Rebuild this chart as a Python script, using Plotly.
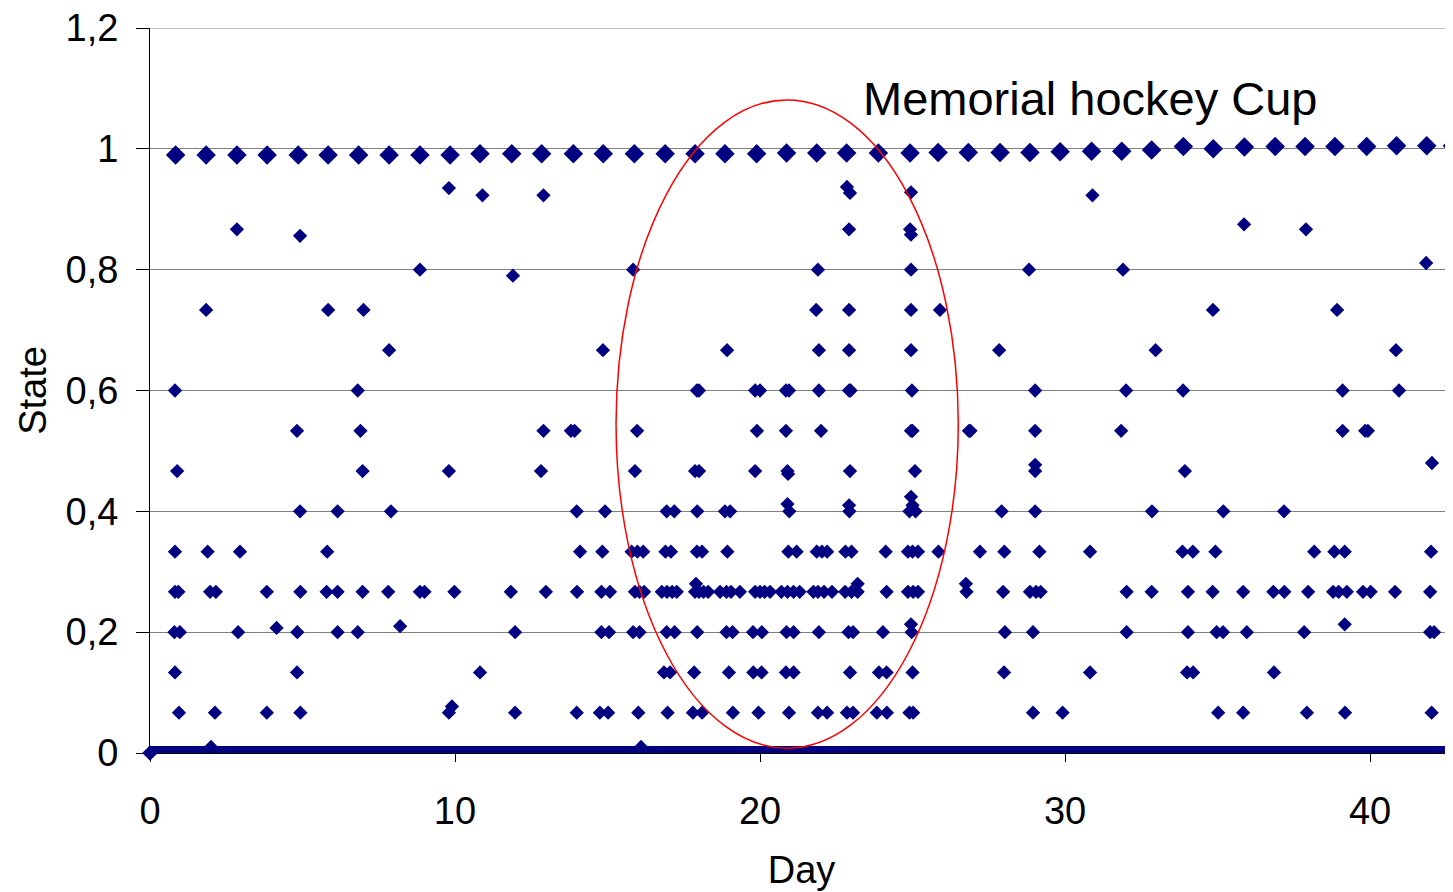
import plotly.graph_objects as go

NAVY = "#000080"

# ---------------- data ----------------
# state 0: a continuous run of observations along the whole period
zero_span_x = [0.0, 42.72]
zero_state = 0.0

# state ~1: one blob per day
top_x = [0.84, 1.84, 2.85, 3.84, 4.86, 5.84, 6.84, 7.84, 8.85, 9.84,
         10.82, 11.86, 12.84, 13.88, 14.86, 15.88, 16.89, 17.87, 18.85, 19.89,
         20.87, 21.86, 22.84, 23.88, 24.92, 25.84, 26.83, 27.87, 28.85, 29.84,
         30.87, 31.86, 32.84, 33.88, 34.86, 35.88, 36.89, 37.87, 38.85, 39.89,
         40.87, 41.86, 42.7]
top_y = [0.99, 0.99, 0.99, 0.99, 0.99, 0.99, 0.99, 0.99, 0.99, 0.99,
         0.992, 0.992, 0.992, 0.992, 0.992, 0.992, 0.992, 0.992, 0.992, 0.992,
         0.993, 0.993, 0.993, 0.993, 0.993, 0.994, 0.994, 0.994, 0.994, 0.995,
         0.996, 0.996, 0.998, 1.004, 1.0, 1.003, 1.004, 1.004, 1.004, 1.004,
         1.005, 1.005, 1.005]

# intermediate states: x positions at each discrete level
lvl_0067_x = [0.95, 2.13, 3.83, 4.93, 9.8, 11.97, 13.99, 14.75, 15.02, 16.01, 16.97,
              17.8, 18.1, 19.11, 19.95, 20.95, 21.9, 22.2, 22.85, 23.05, 23.83, 24.16,
              24.9, 25.02, 28.95, 29.92, 35.02, 35.84, 37.93, 39.18, 42.02]
lvl_0133_x = [0.82, 4.82, 10.82, 16.85, 17.05, 17.84, 18.98, 19.78, 20.05, 20.85, 21.1,
              22.95, 23.9, 24.15, 25.0, 28.0, 30.82, 34.0, 34.2, 36.85]
lvl_0200_x = [0.8, 0.98, 2.89, 4.83, 6.15, 6.81, 11.97, 14.8, 15.05, 15.84, 16.05,
              16.94, 17.2, 17.94, 18.9, 19.1, 19.77, 20.06, 20.87, 21.1, 21.93, 22.9,
              23.05, 24.03, 24.97, 28.03, 28.95, 32.02, 34.03, 34.97, 35.18, 35.96,
              37.84, 41.97, 42.1]
lvl_0267_x = [0.82, 0.93, 1.97, 2.16, 3.83, 4.93, 5.79, 6.15, 6.97, 7.81, 8.85, 9.0,
              9.98, 11.83, 12.98, 14.0, 14.8, 15.08, 15.9, 16.05, 16.2, 16.78, 16.95,
              17.12, 17.27, 17.87, 18.0, 18.15, 18.3, 18.69, 18.9, 19.05, 19.34, 19.84,
              20.0, 20.15, 20.33, 20.7, 20.9, 21.1, 21.3, 21.75, 21.9, 22.1, 22.36,
              22.79, 23.0, 23.2, 24.15, 24.85, 25.02, 25.18, 26.77, 27.97, 28.85,
              29.05, 29.2, 32.02, 32.84, 34.03, 34.84, 35.84, 36.83, 37.19, 37.97,
              38.79, 38.97, 39.24, 39.77, 40.02, 40.82, 41.97]
lvl_0333_x = [0.82, 1.89, 2.95, 5.81, 14.1, 14.83, 15.79, 15.98, 16.17, 16.9, 17.08,
              17.93, 18.1, 18.93, 20.93, 21.2, 21.86, 22.03, 22.2, 22.8, 23.0, 24.12,
              24.85, 25.0, 25.18, 25.85, 27.21, 28.01, 29.16, 30.82, 33.85, 34.19,
              34.93, 38.17, 38.83, 39.17, 42.0]
lvl_0400_x = [4.92, 6.15, 7.9, 13.99, 14.92, 16.94, 17.19, 17.94, 18.85, 19.02, 20.96,
              22.93, 24.9, 25.1, 27.92, 29.02, 32.85, 35.19, 37.18]
lvl_0467_x = [0.89, 6.97, 9.8, 12.82, 15.9, 17.87, 18.0, 19.84, 20.9, 22.95, 25.08,
              29.02, 33.93]
lvl_0533_x = [4.82, 6.9, 12.9, 13.8, 13.92, 15.97, 19.9, 20.85, 22.0, 24.95, 25.0,
              26.85, 26.9, 29.02, 31.84, 39.1, 39.84, 39.93]
lvl_0600_x = [0.82, 6.81, 17.93, 18.0, 19.84, 20.0, 20.85, 20.95, 21.93, 22.92, 22.97,
              24.98, 29.02, 32.0, 33.87, 39.1, 40.95]
lvl_0667_x = [7.84, 14.85, 18.92, 21.93, 22.92, 24.95, 27.84, 32.97, 40.85]
lvl_0733_x = [1.84, 5.84, 7.0, 21.84, 22.92, 24.95, 25.9, 34.85, 38.92]
lvl_0800_x = [8.85, 15.84, 21.9, 24.95, 28.82, 31.9]
lvl_0867_x = [2.85, 22.92, 24.92, 37.9]

levels = [0.0667, 0.1333, 0.2, 0.2667, 0.3333, 0.4, 0.4667, 0.5333, 0.6, 0.6667,
          0.7333, 0.8, 0.8667]
level_x_lists = [lvl_0067_x, lvl_0133_x, lvl_0200_x, lvl_0267_x, lvl_0333_x,
                 lvl_0400_x, lvl_0467_x, lvl_0533_x, lvl_0600_x, lvl_0667_x,
                 lvl_0733_x, lvl_0800_x, lvl_0867_x]

# points slightly off the discrete levels
off_x = [2.0, 16.1, 9.9, 4.15, 8.2, 24.95, 39.17, 17.9, 23.2, 26.75, 20.9, 22.92,
         24.95, 25.0, 20.92, 29.02, 42.03, 11.9, 41.84, 4.92, 24.95, 35.87,
         9.8, 10.9, 12.9, 22.85, 22.95, 24.95, 30.9, 42.7]
off_y = [0.01, 0.01, 0.077, 0.207, 0.21, 0.213, 0.213, 0.28, 0.28, 0.28, 0.412, 0.41,
         0.424, 0.41, 0.462, 0.477, 0.48, 0.79, 0.811, 0.856, 0.858, 0.875,
         0.935, 0.923, 0.923, 0.937, 0.927, 0.928, 0.923, 0.946]

x_tick_vals = [0, 10, 20, 30, 40]
y_tick_vals = [0, 0.2, 0.4, 0.6, 0.8, 1.0, 1.2]
y_tick_text = ["0", "0,2", "0,4", "0,6", "0,8", "1", "1,2"]
y_range = [0, 1.2]

# highlighted period (ellipse) and its label
ellipse_x = [15.28, 26.5]
ellipse_y = [0.008, 1.081]
label_text = "Memorial hockey Cup"
label_pos = [30.82, 1.084]

# ---------------- figure ----------------
mid_x, mid_y = [], []
for lv, xs in zip(levels, level_x_lists):
    mid_x.extend(xs)
    mid_y.extend([lv] * len(xs))
mid_x.extend(off_x)
mid_y.extend(off_y)

FONT = "Liberation Sans, Arial, sans-serif"

fig = go.Figure()
# the dense run of zero-state observations, drawn as one thick horizontal bar
fig.add_trace(go.Bar(
    orientation="h", y=[zero_state], x=[zero_span_x[1] - zero_span_x[0]],
    base=[zero_span_x[0]], width=[0.023], marker=dict(color=NAVY, line=dict(width=0)),
    cliponaxis=False, showlegend=False, hoverinfo="skip"))
fig.add_trace(go.Scatter(
    x=zero_span_x, y=[zero_state, zero_state], mode="markers",
    marker=dict(symbol="diamond", size=12, color=NAVY),
    cliponaxis=False, showlegend=False, hoverinfo="skip"))
fig.add_trace(go.Scatter(
    x=top_x, y=top_y, mode="markers",
    marker=dict(symbol="diamond", size=15, color=NAVY),
    cliponaxis=False, showlegend=False))
fig.add_trace(go.Scatter(
    x=mid_x, y=mid_y, mode="markers",
    marker=dict(symbol="diamond", size=11, color=NAVY),
    cliponaxis=False, showlegend=False))

# top border gridline (at the upper end of the value range)
fig.add_shape(type="line", xref="paper", yref="y", x0=0, x1=1,
              y0=y_range[1], y1=y_range[1],
              line=dict(color="#808080", width=1), layer="below")

fig.add_shape(type="circle", xref="x", yref="y",
              x0=ellipse_x[0], x1=ellipse_x[1], y0=ellipse_y[0], y1=ellipse_y[1],
              line=dict(color="#ff0000", width=1.5), layer="above")
fig.add_annotation(x=label_pos[0], y=label_pos[1], xref="x", yref="y",
                   text=label_text, showarrow=False,
                   font=dict(family=FONT, size=47, color="black"),
                   xanchor="center", yanchor="middle")

# the page body keeps an 8px margin, so the figure is 8px smaller than the window
fig.update_layout(
    width=1445, height=884,
    margin=dict(l=142, r=0, t=20, b=139, autoexpand=False),
    paper_bgcolor="white", plot_bgcolor="white",
    font=dict(family=FONT, color="black"),
    showlegend=False, bargap=0,
)
fig.update_xaxes(
    range=[0, 42.72], tickvals=x_tick_vals, ticks="outside", ticklen=8,
    tickcolor="black", tickwidth=1, showline=True, linecolor="black", linewidth=1,
    showgrid=False, zeroline=False, tickfont=dict(size=38, family=FONT),
    ticklabelstandoff=16, automargin=False, ticklabeloverflow="allow",
    title=dict(text="Day", font=dict(size=38, family=FONT), standoff=25),
    layer="below traces")
fig.update_yaxes(
    range=y_range, tickvals=y_tick_vals, ticktext=y_tick_text, ticks="outside",
    ticklen=13, tickcolor="black", tickwidth=1, showline=True, linecolor="black",
    linewidth=1, showgrid=True, gridcolor="#808080", gridwidth=1, zeroline=False,
    tickfont=dict(size=38, family=FONT), ticklabelstandoff=10, automargin=False,
    ticklabeloverflow="allow",
    title=dict(text="State", font=dict(size=38, family=FONT), standoff=7),
    layer="below traces")

fig.write_html("out.html")
